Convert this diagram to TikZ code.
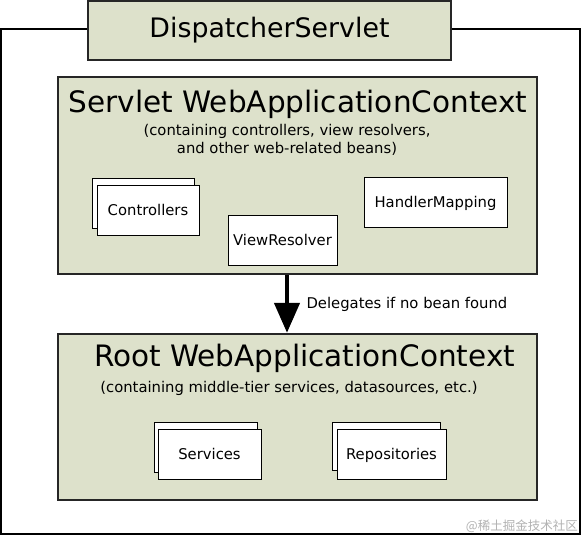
\documentclass[tikz,border=0pt]{standalone}
\usepackage{fontspec}
\setmainfont{DejaVu Sans}
\newfontfamily\wmfont{Noto Sans CJK SC}
\usepackage{xcolor}
\usetikzlibrary{arrows.meta,calc,positioning}
\definecolor{ctxgreen}{HTML}{DDE1CB}
\tikzset{
  marco/.style={draw=black,line width=2pt},
  ctxbox/.style={draw=black!85,fill=ctxgreen,line width=2.4pt,inner sep=0pt},
  beanbox/.style={draw=black,fill=white,line width=1pt,minimum height=50pt,inner sep=0pt,text depth=0pt,font=\fontsize{14.8}{18}\selectfont},
  titulo/.style={anchor=base,font=\fontsize{29.5}{34}\selectfont,inner sep=0pt},
  sub/.style={anchor=base,font=\fontsize{14.8}{18}\selectfont,inner sep=0pt,align=center}
}

\begin{document}
\begin{tikzpicture}[x=1pt,y=-1pt]
\useasboundingbox (0,0) rectangle (582,536);
\fill[white] (0,0) rectangle (582,536);
\draw[marco] (1,29) rectangle (580,534);
\node[ctxbox,minimum width=363pt,minimum height=59pt,line width=2pt,
  font=\fontsize{26.8}{30}\selectfont] (dispatcher) at (269.5,30.5) {DispatcherServlet};

% servlet context
\node[ctxbox,minimum width=479pt,minimum height=197pt] (servlet) at (297.5,175.5) {};
\node[titulo] (servlettit) at (298,112) {Servlet WebApplicationContext};
\node[sub] (servletsub1) at (287,135) {(containing controllers, view resolvers,};
\node[sub] (servletsub2) at (287,153) {and other web-related beans)};
\node[beanbox,minimum width=102pt] (controllersback) at (143,203) {};
\node[beanbox,minimum width=102pt] (controllers) at (148,210) {Controllers};
\node[beanbox,minimum width=109pt] (viewresolver) at (282.5,240) {ViewResolver};
\node[beanbox,minimum width=143pt] (handlermapping) at (435.5,202) {HandlerMapping};

% root context
\node[ctxbox,minimum width=479pt,minimum height=166pt] (root) at (297.5,417) {};
\node[titulo] (roottit) at (304.5,366) {Root WebApplicationContext};
\node[sub] (rootsub) at (289,392) {(containing middle-tier services, datasources, etc.)};
\node[beanbox,minimum width=103pt] (servicesback) at (205.5,447) {};
\node[beanbox,minimum width=103pt] (services) at (209.5,454) {Services};
\node[beanbox,minimum width=108pt,minimum height=48pt] (repositoriesback) at (386,446) {};
\node[beanbox,minimum width=109pt] (repositories) at (391.5,454) {Repositories};

\draw[line width=4.5pt,-{Triangle[length=30pt,width=25pt]}]
  ($(servlet.south)+(-10.5,0)$) -- ($(root.north)+(-10.5,0)$)
  node[pos=0.5,right=14pt,font=\fontsize{14.8}{18}\selectfont] (delegalbl) {Delegates if no bean found};

\node[anchor=base east,text=black!30,font=\wmfont\fontsize{12.5}{15}\selectfont,inner sep=0pt] (marca) at (578,530) {@稀土掘金技术社区};
\end{tikzpicture}
\end{document}
